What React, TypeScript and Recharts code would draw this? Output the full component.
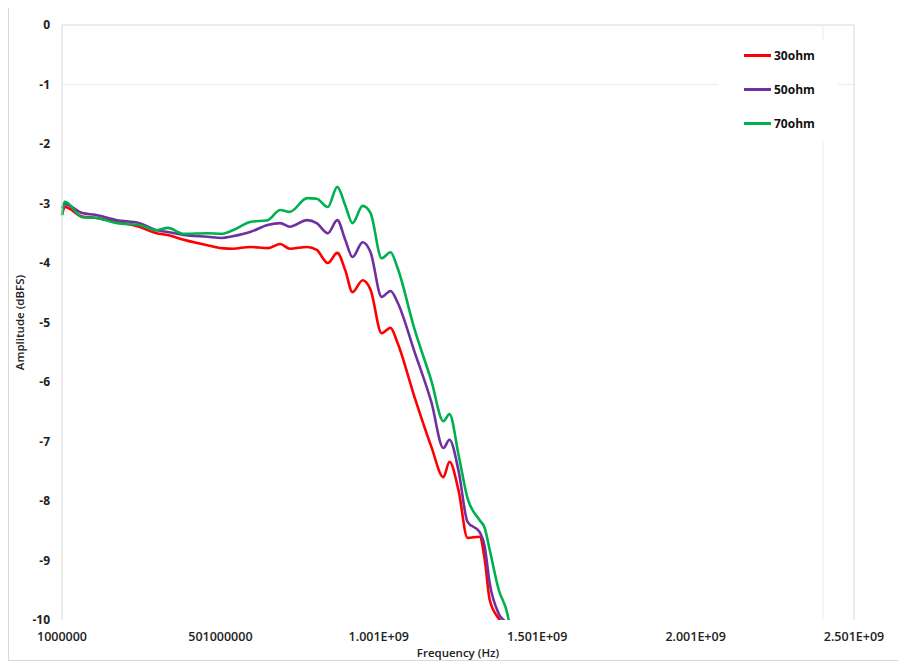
import { LineChart, Line, XAxis, YAxis, ReferenceLine, Legend } from "recharts";

// frequency points in MHz
const freqMHz = [
  1, 10, 65, 105, 175, 245, 300, 335, 385, 460, 505, 540, 595, 650, 690, 720, 775, 805, 840, 870,
  895, 918, 950, 975, 1010, 1038, 1060, 1113, 1167, 1205, 1224, 1253, 1281, 1319, 1335, 1351, 1380,
  1408, 1420,
];

const ohm30 = [
  -3.19, -3.06, -3.22, -3.24, -3.31, -3.39, -3.5, -3.53, -3.61, -3.7, -3.75, -3.76, -3.73, -3.75,
  -3.68, -3.76, -3.73, -3.78, -4.0, -3.83, -4.12, -4.49, -4.29, -4.45, -5.18, -5.09, -5.34, -6.24,
  -7.09, -7.6, -7.34, -7.83, -8.62, -8.6, -8.97, -9.66, -9.98, -10.15, -10.4,
];

const ohm50 = [
  -3.08, -3.01, -3.16, -3.19, -3.28, -3.33, -3.45, -3.48, -3.53, -3.56, -3.58, -3.55, -3.48, -3.36,
  -3.33, -3.39, -3.28, -3.33, -3.5, -3.28, -3.61, -3.9, -3.65, -3.82, -4.57, -4.47, -4.66, -5.48,
  -6.34, -7.11, -6.97, -7.5, -8.35, -8.52, -8.76, -9.38, -9.9, -10.1, -10.35,
];

const ohm70 = [
  -3.2, -2.97, -3.23, -3.24, -3.33, -3.36, -3.45, -3.41, -3.51, -3.5, -3.51, -3.45, -3.31, -3.28,
  -3.11, -3.14, -2.91, -2.92, -3.06, -2.72, -3.03, -3.33, -3.04, -3.16, -3.92, -3.82, -4.08, -5.1,
  -5.98, -6.66, -6.54, -7.23, -7.95, -8.32, -8.45, -8.82, -9.5, -9.92, -10.3,
];

const xTicks = [1e6, 501e6, 1001e6, 1501e6, 2001e6, 2501e6];
const yTicks = [0, -1, -2, -3, -4, -5, -6, -7, -8, -9, -10];

const series = [
  { key: "r30", name: "30ohm", color: "#ff0000" },
  { key: "r50", name: "50ohm", color: "#7030a0" },
  { key: "r70", name: "70ohm", color: "#00b050" },
];

const data = freqMHz.map((f, i) => ({
  f: f * 1e6,
  r30: ohm30[i],
  r50: ohm50[i],
  r70: ohm70[i],
}));

const font = "'Open Sans', 'Noto Sans', sans-serif";

const fmtHz = (v: number) => (v < 1e9 ? String(v) : (v / 1e9).toFixed(3) + "E+09");

const LegendBox = () => (
  <div style={{ background: "#fff", width: 120, height: 100, position: "relative", fontFamily: font }}>
    {series.map((s, i) => (
      <div key={s.key} style={{ position: "absolute", left: 26, top: 7 + i * 34, display: "flex", alignItems: "center" }}>
        <div style={{ width: 27, height: 3, background: s.color }} />
        <span style={{ marginLeft: 3, fontSize: 12, fontWeight: 700, color: "#111" }}>{s.name}</span>
      </div>
    ))}
  </div>
);

export default function App() {
  return (
    <div style={{ marginTop: -5, width: 897, height: 656, border: "1px solid #d9d9d9", background: "#fff" }}>
      <LineChart width={897} height={656} data={data} margin={{ top: 21, right: 52, left: 0, bottom: 0 }}>
        <ReferenceLine y={0} stroke="#d9d9d9" />
        <ReferenceLine y={-1} stroke="#ececec" />
        <ReferenceLine x={2501e6} stroke="#d9d9d9" />
        <ReferenceLine x={2403e6} stroke="#ececec" />
        <XAxis
          dataKey="f"
          type="number"
          domain={[1e6, 2501e6]}
          ticks={xTicks}
          tickFormatter={fmtHz}
          axisLine={false}
          tickLine={false}
          tickMargin={6}
          height={40}
          tick={{ fontSize: 12.5, fontWeight: 600, fill: "#222", fontFamily: font }}
          label={{ value: "Frequency (Hz)", position: "insideBottom", offset: 3, fontSize: 11.5, fontWeight: 600, fill: "#222", fontFamily: font }}
        />
        <YAxis
          type="number"
          domain={[-10, 0]}
          ticks={yTicks}
          allowDataOverflow
          width={53}
          axisLine={{ stroke: "#d9d9d9" }}
          tickLine={false}
          tickMargin={6}
          tick={{ fontSize: 12, fontWeight: 700, fill: "#222", fontFamily: font }}
          label={{ value: "Amplitude (dBFS)", angle: -90, position: "insideLeft", offset: 11, fontSize: 11.5, fontWeight: 600, fill: "#222", fontFamily: font, style: { textAnchor: "middle" } }}
        />
        <Legend
          layout="vertical"
          verticalAlign="middle"
          align="center"
          content={() => <LegendBox />}
          wrapperStyle={{ left: 709, top: 36, width: 120, height: 100 }}
        />
        {series.map((s) => (
          <Line
            key={s.key}
            type="monotone"
            dataKey={s.key}
            name={s.name}
            stroke={s.color}
            strokeWidth={2.6}
            dot={false}
            isAnimationActive={false}
          />
        ))}
      </LineChart>
    </div>
  );
}
